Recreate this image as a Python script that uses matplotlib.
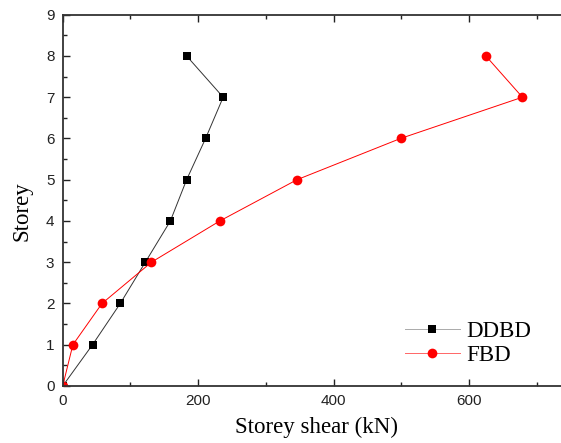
import matplotlib
matplotlib.use('Agg')
import matplotlib.pyplot as plt
from matplotlib.ticker import MultipleLocator

# Datos
storey = [0, 1, 2, 3, 4, 5, 6, 7, 8]
ddbd_shear = [0, 44, 85, 122, 159, 183, 211, 237, 183]
fbd_shear = [0, 15, 58, 131, 232, 346, 499, 679, 625]

fig = plt.figure(figsize=(5.61, 4.43), dpi=100)
ax = fig.add_axes([0.1118, 0.1287, 0.8882, 0.8381])

ax.plot(ddbd_shear, storey, color='#333333', lw=0.7, marker='s', ms=6,
        markerfacecolor='black', markeredgewidth=0, label='DDBD')
ax.plot(fbd_shear, storey, color='red', lw=0.7, marker='o', ms=7,
        markeredgewidth=0, label='FBD')

ax.set_xlim(0, 736)
ax.set_ylim(0, 9)
ax.xaxis.set_major_locator(MultipleLocator(200))
ax.xaxis.set_minor_locator(MultipleLocator(100))
ax.yaxis.set_major_locator(MultipleLocator(1))
ax.yaxis.set_minor_locator(MultipleLocator(0.5))
ax.tick_params(which='both', direction='in', top=True, right=False,
               labelsize=11, width=1, colors='#222222')
ax.tick_params(which='major', length=5, pad=6)
ax.tick_params(which='minor', length=3)
ax.spines['right'].set_visible(False)
for s in ['left', 'bottom', 'top']:
    ax.spines[s].set_linewidth(1.3)
    ax.spines[s].set_color('#333333')
for lab in ax.get_xticklabels() + ax.get_yticklabels():
    lab.set_family('Liberation Sans')

ax.set_xlabel('Storey shear (kN)', family='Liberation Serif', fontsize=16.5)
ax.set_ylabel('Storey', family='Liberation Serif', fontsize=16.5)
ax.xaxis.set_label_coords(0.51, -0.083)
ax.yaxis.set_label_coords(-0.06, 0.471)

leg = ax.legend(loc='center left', bbox_to_anchor=(0.686, 0.114), frameon=False,
                prop={'family': 'Liberation Serif', 'size': 16.5},
                handlelength=2.4, handletextpad=0.3, labelspacing=0.12,
                borderpad=0, borderaxespad=0)
leg.get_lines()[0].set_color('#aaaaaa')
leg.get_lines()[0].set_markerfacecolor('black')
leg.get_lines()[1].set_color('#ff6666')
leg.get_lines()[1].set_markerfacecolor('red')

fig.savefig('out.png', dpi=100)
